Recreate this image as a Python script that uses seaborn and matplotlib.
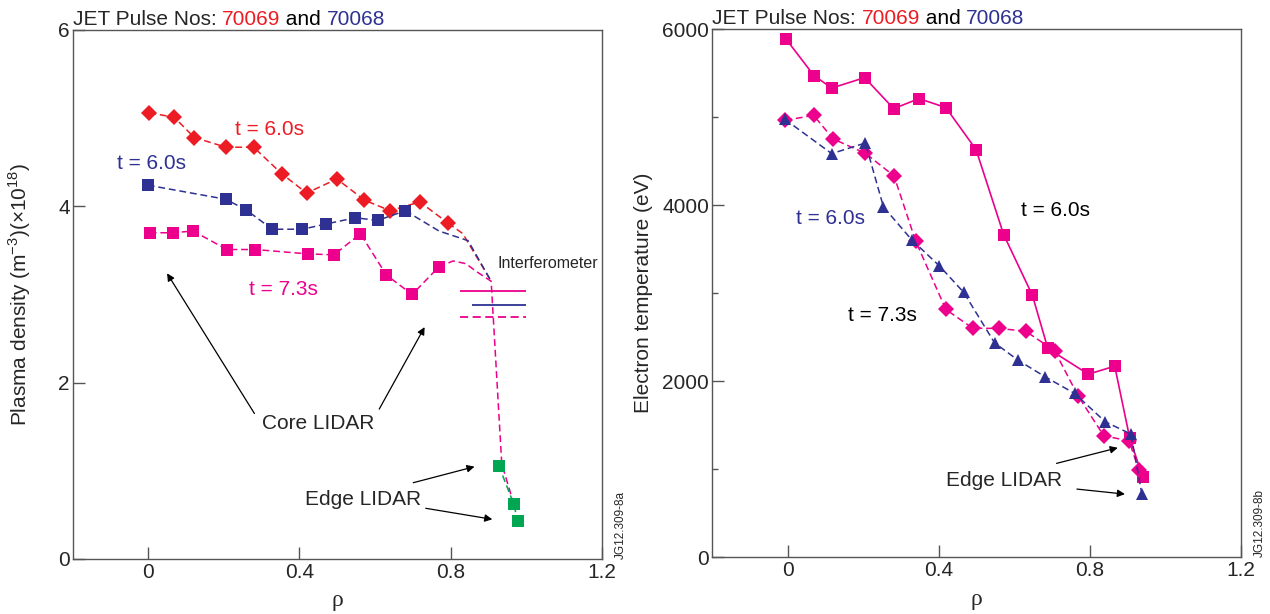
import seaborn as sns
import matplotlib.pyplot as plt

# ---- data: left panel, plasma density (x1e18 m^-3) vs rho ----
rho_d6 = [0.003, 0.069, 0.122, 0.206, 0.279, 0.353, 0.419, 0.499, 0.572, 0.640, 0.718, 0.793]
ne_d6 = [5.06, 5.01, 4.78, 4.67, 4.67, 4.37, 4.15, 4.31, 4.07, 3.95, 4.05, 3.81]
rho_d6_tail = [0.793, 0.832, 0.907]
ne_d6_tail = [3.81, 3.69, 3.15]

rho_b6 = [-0.001, 0.205, 0.259, 0.328, 0.408, 0.471, 0.548, 0.607, 0.680]
ne_b6 = [4.24, 4.08, 3.96, 3.74, 3.74, 3.80, 3.87, 3.84, 3.95]
rho_b6_tail = [0.680, 0.769, 0.846, 0.907]
ne_b6_tail = [3.95, 3.72, 3.61, 3.15]

rho_m73 = [0.004, 0.065, 0.119, 0.208, 0.283, 0.423, 0.492, 0.561, 0.630, 0.698, 0.768]
ne_m73 = [3.70, 3.70, 3.72, 3.51, 3.51, 3.46, 3.45, 3.69, 3.22, 3.00, 3.31]
rho_m73_tail = [0.768, 0.806, 0.840, 0.868, 0.907, 0.935, 0.965]
ne_m73_tail = [3.31, 3.38, 3.35, 3.26, 3.15, 1.08, 0.65]

rho_edge = [0.927, 0.967, 0.977]
ne_edge = [1.06, 0.62, 0.43]

# interferometer line-averaged values
interf_ne = [3.04, 2.88, 2.75]
interf_x0 = [0.824, 0.857, 0.824]

# ---- data: right panel, electron temperature (eV) vs rho ----
rho_sq = [-0.004, 0.070, 0.117, 0.204, 0.281, 0.348, 0.419, 0.499, 0.572, 0.648, 0.689, 0.796, 0.866, 0.906, 0.940]
te_sq = [5886, 5471, 5330, 5448, 5096, 5210, 5108, 4631, 3666, 2977, 2372, 2080, 2171, 1350, 915]

rho_dia = [-0.006, 0.069, 0.121, 0.206, 0.282, 0.339, 0.419, 0.490, 0.560, 0.630, 0.707, 0.769, 0.837, 0.904, 0.930]
te_dia = [4963, 5020, 4751, 4589, 4331, 3593, 2815, 2603, 2599, 2569, 2345, 1834, 1380, 1323, 991]

rho_tri = [-0.007, 0.117, 0.206, 0.254, 0.329, 0.402, 0.466, 0.548, 0.610, 0.682, 0.760, 0.841, 0.909, 0.938]
te_tri = [4975, 4585, 4706, 3979, 3605, 3310, 3011, 2436, 2239, 2050, 1861, 1539, 1400, 715]

RED = "#ED1C24"
BLUE = "#2E3192"
MAG = "#EC008C"
GREEN = "#00A651"
DASH = (0, (4.5, 2.5))

sns.set_style("ticks")
plt.rcParams["font.family"] = ["Liberation Sans", "DejaVu Sans"]
plt.rcParams["mathtext.fontset"] = "custom"
plt.rcParams["mathtext.rm"] = "Liberation Sans"
plt.rcParams["axes.edgecolor"] = "#555555"
plt.rcParams["axes.linewidth"] = 1.0

fig = plt.figure(figsize=(12.7, 6.14), dpi=100)
ax1 = fig.add_axes([0.0571, 0.0896, 0.4169, 0.8616])
ax2 = fig.add_axes([0.5606, 0.0923, 0.4165, 0.8604])


def series(ax, x, y, color, marker=None, ms=8, ls=DASH, lw=1.1):
    sns.lineplot(x=x, y=y, ax=ax, color=color, marker=marker, markersize=ms,
                 markeredgewidth=0, linestyle=ls, linewidth=lw,
                 sort=False, estimator=None)


def arrow(ax, tail, head):
    ax.annotate("", xy=head, xytext=tail,
                arrowprops=dict(arrowstyle="-|>", color="black", lw=0.9,
                                mutation_scale=11, shrinkA=0, shrinkB=0))


def title(ax):
    t = ax.text(0, 1.009, "JET Pulse Nos: ", transform=ax.transAxes,
                fontsize=15, va="baseline", ha="left")
    t = ax.annotate("70069", xy=(1, 0), xycoords=t, fontsize=15,
                    va="bottom", ha="left", color=RED)
    t = ax.annotate(" and ", xy=(1, 0), xycoords=t, fontsize=15,
                    va="bottom", ha="left", color="black")
    ax.annotate("70068", xy=(1, 0), xycoords=t, fontsize=15,
                va="bottom", ha="left", color=BLUE)


# ---------------- left panel ----------------
series(ax1, rho_d6_tail, ne_d6_tail, RED)
series(ax1, rho_b6_tail, ne_b6_tail, BLUE)
series(ax1, rho_m73_tail, ne_m73_tail, MAG)
series(ax1, rho_d6, ne_d6, RED, marker="D", ms=8)
series(ax1, rho_b6, ne_b6, BLUE, marker="s")
series(ax1, rho_m73, ne_m73, MAG, marker="s")
series(ax1, rho_edge, ne_edge, GREEN, marker="s")

ax1.hlines(interf_ne[0], interf_x0[0], 1.0, color=MAG, lw=1.3)
ax1.hlines(interf_ne[1], interf_x0[1], 1.0, color=BLUE, lw=1.3)
ax1.hlines(interf_ne[2], interf_x0[2], 1.0, color=MAG, lw=1.3, linestyles=DASH)

ax1.text(0.229, 4.87, "t = 6.0s", color=RED, fontsize=15, va="center")
ax1.text(-0.082, 4.49, "t = 6.0s", color=BLUE, fontsize=15, va="center")
ax1.text(0.267, 3.06, "t = 7.3s", color=MAG, fontsize=15, va="center")
ax1.text(0.923, 3.35, "Interferometer", fontsize=11.5, va="center")
ax1.text(0.302, 1.54, "Core LIDAR", fontsize=15, va="center")
ax1.text(0.414, 0.67, "Edge LIDAR", fontsize=15, va="center")
arrow(ax1, (0.281, 1.65), (0.05, 3.24))
arrow(ax1, (0.611, 1.70), (0.731, 2.63))
arrow(ax1, (0.701, 0.865), (0.863, 1.047))
arrow(ax1, (0.734, 0.575), (0.910, 0.45))

ax1.set_xlim(-0.2, 1.2)
ax1.set_ylim(0, 6)
ax1.set_xticks([0, 0.4, 0.8, 1.2], ["0", "0.4", "0.8", "1.2"])
ax1.set_yticks([0, 2, 4, 6])
ax1.set_ylabel("Plasma density (m$^{-3}$)(×10$^{18}$)", fontsize=15)
ax1.yaxis.set_label_coords(-0.075, 0.5)
ax1.text(1.035, 0.0, "JG12.309-8a", transform=ax1.transAxes, rotation=90,
         fontsize=8.5, ha="center", va="bottom")
title(ax1)

# ---------------- right panel ----------------
series(ax2, rho_sq, te_sq, MAG, marker="s", ls="-", lw=1.2)
series(ax2, rho_dia, te_dia, MAG, marker="D", ms=8)
series(ax2, rho_tri, te_tri, BLUE, marker="^", ms=9)

ax2.text(0.023, 3850, "t = 6.0s", color=BLUE, fontsize=15, va="center")
ax2.text(0.618, 3940, "t = 6.0s", color="black", fontsize=15, va="center")
ax2.text(0.159, 2750, "t = 7.3s", color="black", fontsize=15, va="center")
ax2.text(0.42, 877, "Edge LIDAR", fontsize=15, va="center")
arrow(ax2, (0.712, 1067), (0.874, 1244))
arrow(ax2, (0.766, 775), (0.893, 718))

ax2.set_xlim(-0.2, 1.2)
ax2.set_ylim(0, 6000)
ax2.set_xticks([0, 0.4, 0.8, 1.2], ["0", "0.4", "0.8", "1.2"])
ax2.set_yticks([0, 2000, 4000, 6000])
ax2.set_yticks([1000, 3000, 5000], minor=True)
ax2.set_ylabel("Electron temperature (eV)", fontsize=15)
ax2.yaxis.set_label_coords(-0.112, 0.5)
ax2.text(1.035, 0.0, "JG12.309-8b", transform=ax2.transAxes, rotation=90,
         fontsize=8.5, ha="center", va="bottom")
title(ax2)

for ax in (ax1, ax2):
    ax.set_xlabel("ρ", fontsize=17, family="Liberation Serif", labelpad=6)
    ax.tick_params(which="major", direction="in", length=8.5, width=1.0,
                   color="#555555", labelsize=15, pad=3)
    ax.tick_params(axis="y", which="major", pad=2)
    ax.tick_params(which="minor", direction="in", length=4, width=1.0,
                   color="#555555")
    for s in ax.spines.values():
        s.set_visible(True)

fig.savefig("out.png", dpi=100)
